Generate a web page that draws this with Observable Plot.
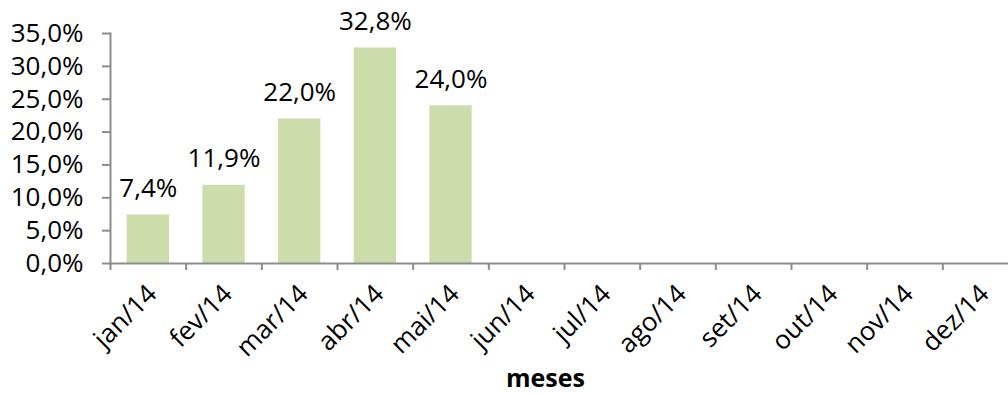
<!DOCTYPE html>
<html>
<head>
<meta charset="utf-8">
<script src="https://cdn.jsdelivr.net/npm/d3@7"></script>
<script src="https://cdn.jsdelivr.net/npm/@observablehq/plot@0.6"></script>
<style>
  html, body { margin: 0; padding: 0; background: #fff; overflow: hidden; }
</style>
</head>
<body>
<div id="chart"></div>
<script>
const months = ["jan/14","fev/14","mar/14","abr/14","mai/14","jun/14","jul/14","ago/14","set/14","out/14","nov/14","dez/14"];
const values = [0.074, 0.119, 0.220, 0.328, 0.240];
const yTicks = [0, 0.05, 0.10, 0.15, 0.20, 0.25, 0.30, 0.35];
const xTitle = "meses";

const data = values.map((v, i) => ({month: months[i], value: v}));
const fmt = d => (d * 100).toFixed(1).replace(".", ",") + "%";

const xRange = [110, 1018];
const step = (xRange[1] - xRange[0]) / months.length;
const axisColor = "#8c8c8c";

const chart = Plot.plot({
  width: 1008,
  height: 393,
  marginLeft: 110,
  marginRight: 0,
  marginTop: 33,
  marginBottom: 130,
  style: {fontFamily: "'Open Sans', sans-serif", fontSize: "26px", color: "#000", background: "#fff", overflow: "hidden"},
  x: {domain: months, range: xRange, paddingInner: 0.44, paddingOuter: 0.22, round: false},
  y: {domain: [0, 0.35]},
  marks: [
    Plot.barY(data, {x: "month", y: "value", fill: "#ccdcaa"}),
    Plot.text(data, {x: "month", y: "value", text: d => fmt(d.value), dy: -18, lineAnchor: "bottom", fontSize: 26}),
    Plot.axisY({ticks: yTicks, tickFormat: fmt, tickSize: 8, tickPadding: 19, stroke: axisColor, strokeWidth: 2, fill: "#000", fontSize: 26, label: null}),
    Plot.axisX({tickSize: 7, tickFormat: () => "", dx: -step / 2, stroke: axisColor, strokeWidth: 2, label: null}),
    Plot.axisX({tickSize: 0, tickRotate: -45, tickPadding: 26, dx: 4, fill: "#000", fontSize: 26, label: null}),
    Plot.frame({anchor: "left", stroke: axisColor, strokeWidth: 2}),
    Plot.frame({anchor: "bottom", stroke: axisColor, strokeWidth: 2}),
    Plot.text([xTitle], {frameAnchor: "bottom", text: d => d, dx: -14, dy: 123, lineAnchor: "bottom", fontWeight: "bold", fontSize: 25})
  ]
});
document.getElementById("chart").appendChild(chart);
</script>
</body>
</html>
